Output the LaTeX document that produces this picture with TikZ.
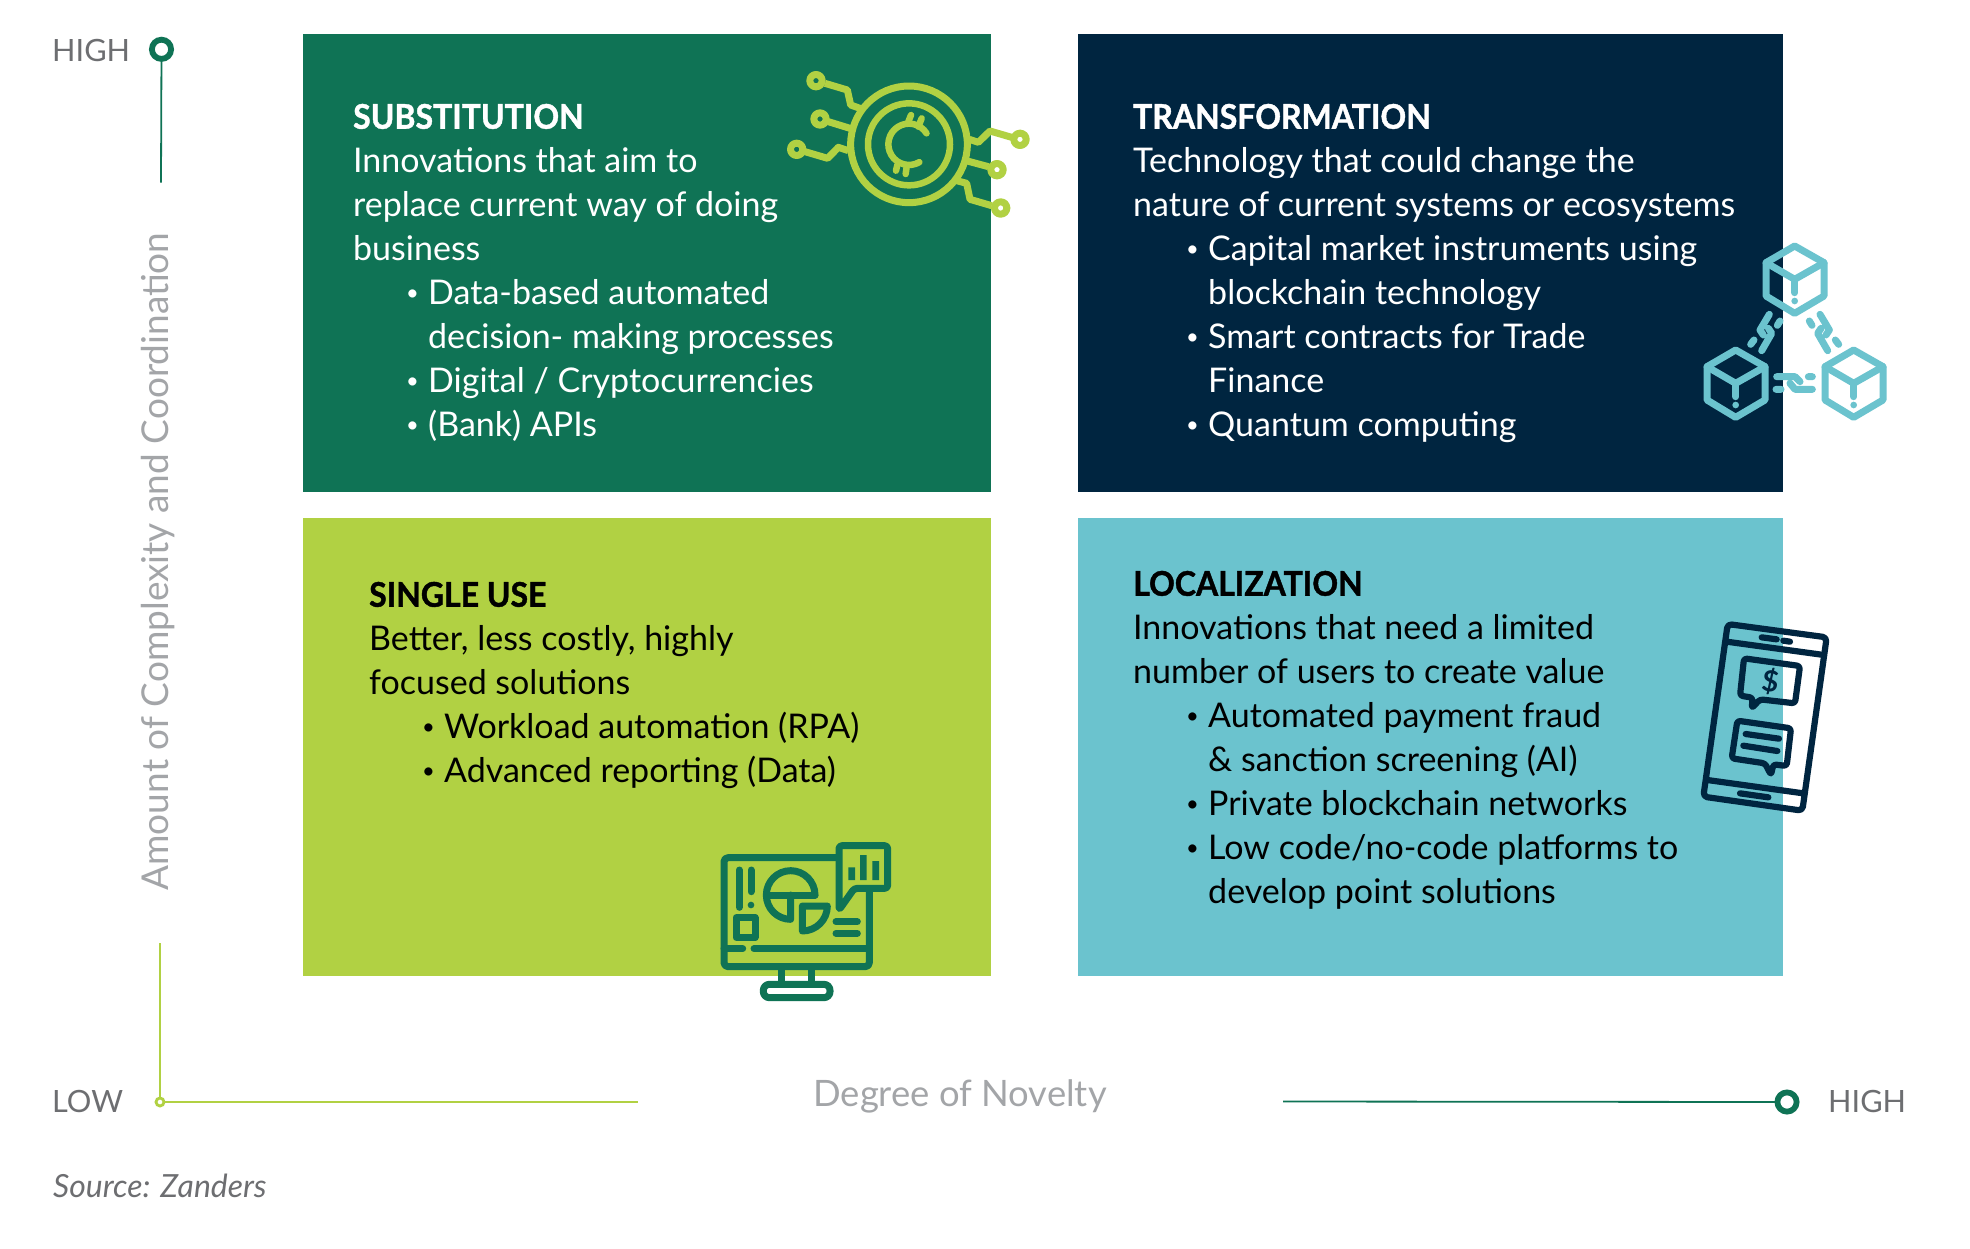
\documentclass[tikz,border=0pt]{standalone}
\usepackage{fontspec}
\setmainfont{Lato}
\newfontfamily\hdfont[BoldFeatures={FakeBold=1.2,FakeStretch=0.94}]{Lato}
\definecolor{cgreen}{HTML}{0F7355}
\definecolor{cnavy}{HTML}{002540}
\definecolor{clime}{HTML}{B1D143}
\definecolor{cteal}{HTML}{6BC3CE}
\definecolor{cgray}{HTML}{6D6E71}
\definecolor{clight}{HTML}{A3A5A8}
\newcommand{\bl}[1]{\hspace*{53pt}\makebox[22pt][l]{\raisebox{4pt}{\fontsize{22}{22}\selectfont •}}#1}
\newcommand{\ct}[1]{\hspace*{75pt}#1}
\newcommand{\hd}[1]{{\hdfont\bfseries #1}}
\tikzset{
 card/.style={anchor=north west,inner sep=0pt,outer sep=0pt,draw=none},
 body/.style={anchor=north west,inner sep=0pt,align=left,font=\fontsize{34}{43.9}\selectfont},
 axis/.style={text=cgray,inner sep=0pt,font=\fontsize{30.7}{38}\selectfont},
 axisb/.style={text=clight,inner sep=0pt,font=\fontsize{37}{46}\selectfont},
 icoin/.style={draw=clime,line width=7pt,line cap=round,line join=round},
 icube/.style={draw=cteal,line width=7pt,line cap=round,line join=round},
 iphone/.style={draw=cnavy,line width=6.2pt,line cap=round,line join=round},
 imon/.style={draw=cgreen,line width=7pt,line cap=round,line join=round},
}
\begin{document}
\begin{tikzpicture}[x=1pt,y=1pt,yscale=-1]
\useasboundingbox (0,0) rectangle (1970,1248);
\fill[white] (0,0) rectangle (1970,1248);
% cards
\node[card,fill=cgreen,minimum width=688pt,minimum height=457.6pt] (c1) at (303,34) {};
\node[card,fill=cnavy,minimum width=705pt,minimum height=457.6pt] (c2) at (1078,34) {};
\node[card,fill=clime,minimum width=688pt,minimum height=457.6pt] (c3) at (303,518) {};
\node[card,fill=cteal,minimum width=705pt,minimum height=457.6pt] (c4) at (1078,518) {};
% texts
\node[body,text=white] (t1) at (353,103.7) {\hd{SUBSTITUTION}\\Innovations that aim to\\replace current way of doing\\business\\\bl{Data-based automated}\\\ct{decision- making processes}\\\bl{Digital / Cryptocurrencies}\\\bl{(Bank) APIs}};
\node[body,text=white] (t2) at (1133,103.7) {\hd{TRANSFORMATION}\\Technology that could change the\\nature of current systems or ecosystems\\\bl{Capital market instruments using}\\\ct{blockchain technology}\\\bl{Smart contracts for Trade}\\\ct{Finance}\\\bl{Quantum computing}};
\node[body,text=black] (t3) at (369,581.7) {\hd{SINGLE USE}\\Better, less costly, highly\\focused solutions\\\bl{Workload automation (RPA)}\\\bl{Advanced reporting (Data)}};
\node[body,text=black] (t4) at (1133,570.7) {\hd{LOCALIZATION}\\Innovations that need a limited\\number of users to create value\\\bl{Automated payment fraud}\\\ct{\&~sanction screening (AI)}\\\bl{Private blockchain networks}\\\bl{Low code/no-code platforms to}\\\ct{develop point solutions}};
% axes
\coordinate (vtop) at (161.5,49.3);
\coordinate (vtopend) at (161,182.7);
\coordinate (vlow) at (160,943);
\coordinate (org) at (160,1102);
\coordinate (hl) at (638,1102);
\coordinate (hr) at (1283,1101.5);
\coordinate (hring) at (1787,1102);
\draw[cgreen,line width=1.8pt] (vtop)--(vtopend);
\draw[clime,line width=1.8pt] (vlow)--(org)--(hl);
\draw[cgreen,line width=1.8pt] (hr)--(hring);
\draw[cgreen,line width=5.8pt,fill=white] (vtop) circle[radius=9.6];
\draw[cgreen,line width=5.8pt,fill=white] (hring) circle[radius=9.6];
\draw[clime,line width=2.8pt,fill=white] (org) circle[radius=4];
\node[axis,anchor=base west] (h1) at (52,61.5) {HIGH};
\node[axis,anchor=base west] (l1) at (52,1112) {LOW};
\node[axis,anchor=base west] (h2) at (1828,1112) {HIGH};
\node[axisb,anchor=base,rotate=90] (ay) at (168,561.5) {Amount of Complexity and Coordination};
\node[axisb,anchor=base,font=\fontsize{36.4}{46}\selectfont] (ax) at (960,1106) {Degree of Novelty};
\node[anchor=base west,inner sep=0pt,text=cgray,font=\fontsize{31.9}{36}\selectfont\itshape] (src) at (53,1197) {Source: Zanders};
% coin icon
\begin{scope}[shift={(760,50)},scale=0.33333]
\draw[icoin] (447,283) circle[radius=175];
\draw[icoin,line width=6.5pt] (447,283) circle[radius=123];
\draw[icoin,line width=6.5pt] (499.6,250) arc[start angle=-32,end angle=-300,radius=62];
\draw[icoin,line width=6.5pt] (453,195)--(445,215) (485,205)--(475,230) (408,362)--(412,345) (437,372)--(440,350);
\foreach \p in {(168,92),(180,207),(110,298),(780,268),(711,359),(722,474)} \draw[icoin] \p circle[radius=18.5];
\draw[icoin,line cap=butt] (195,100)--(262,120)--(272,165)--(300,175);
\draw[icoin,line cap=butt] (205,215)--(270,235);
\draw[icoin,line cap=butt] (135,305)--(203,325)--(235,292)--(265,302);
\draw[icoin,line cap=butt] (755,262)--(690,243)--(655,277)--(628,268);
\draw[icoin,line cap=butt] (685,350)--(622,333);
\draw[icoin,line cap=butt] (695,467)--(630,448)--(620,400)--(590,392);
\end{scope}
% cubes icon
\begin{scope}[shift={(1680,220)},scale=0.33333]
\foreach \dx/\dy in {0/0,-177/312,177/312}{
\begin{scope}[shift={(\dx,\dy)}]
\draw[icube] (344,78)--(432,128)--(432,228)--(344,280)--(258,228)--(258,128)--cycle;
\draw[icube] (258,128)--(344,178)--(432,128);
\draw[icube] (344,178)--(344,218);
\fill[cteal] (344,243) circle[radius=10];
\end{scope}}
\draw[icube] (268,283)--(240,330)--(250,345) (265,325)--(275,340)--(245,392) (300,303)--(292,316) (222,360)--(212,373);
\draw[icube] (420,283)--(448,330)--(438,345) (423,325)--(413,340)--(443,392) (388,303)--(396,316) (466,360)--(476,373);
\draw[icube] (290,470)--(345,470)--(360,485) (330,490)--(345,508)--(397,508) (385,470)--(397,470) (288,508)--(303,508);
\end{scope}
% phone icon
\begin{scope}[shift={(1680,600)},scale=0.33333]
\draw[iphone,rounded corners=4pt] (143,72)--(440,112)--(367,632)--(70,590)--cycle;
\draw[iphone] (140,125)--(432,165) (82,540)--(370,580);
\draw[iphone] (245,112)--(290,118) (310,122)--(330,125) (180,580)--(265,592);
\draw[iphone,rounded corners=3pt] (192,175)--(360,198)--(345,310)--(240,298)--(215,325)--(218,293)--(180,287)--cycle;
\draw[iphone,rounded corners=3pt] (172,362)--(333,385)--(320,498)--(280,493)--(273,525)--(255,490)--(155,475)--cycle;
\draw[iphone] (197,402)--(297,416) (190,437)--(292,453);
\node[rotate=-8,text=cnavy,inner sep=0pt,font=\fontsize{29}{29}\selectfont\bfseries] (dol) at (271,243) {\$};
\end{scope}
% monitor icon
\begin{scope}[shift={(700,830)},scale=0.33333]
\draw[imon,rounded corners=4pt] (415,83)--(72,83)--(72,410)--(508,410)--(508,183);
\draw[imon] (72,356)--(128,356) (162,356)--(508,356);
\draw[imon] (245,410)--(245,460) (335,410)--(335,460);
\draw[imon,rounded corners=6pt,fill=white] (190,463) rectangle (390,503);
\draw[imon,rounded corners=3pt] (417,240)--(417,47)--(563,47)--(563,175)--(463,175)--cycle;
\fill[cgreen] (445,112) rectangle (465,150) (480,75) rectangle (500,150) (517,93) rectangle (537,150);
\draw[imon] (118,120)--(118,232) (153,120)--(153,185);
\fill[cgreen] (153,225) circle[radius=10];
\draw[imon] (108,263) rectangle (165,322);
\draw[imon] (345,195) arc[start angle=0,end angle=-270,radius=73]--(272,195);
\draw[imon] (200,195)--(345,195);
\draw[imon] (307,228)--(382,228) arc[start angle=0,end angle=90,radius=75]--cycle;
\draw[imon] (408,275)--(472,275) (408,310)--(472,310);
\end{scope}
\end{tikzpicture}
\end{document}
